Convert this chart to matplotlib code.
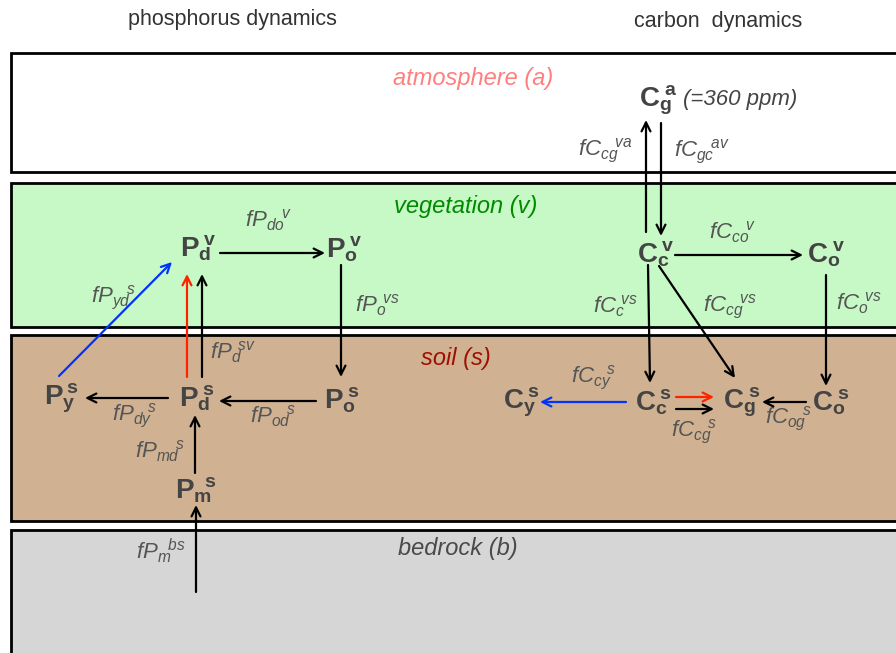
import matplotlib
matplotlib.use("Agg")
import matplotlib.pyplot as plt
from matplotlib.patches import Rectangle

plt.rcParams['font.family'] = ['Liberation Sans', 'DejaVu Sans']
plt.rcParams['mathtext.fontset'] = 'custom'
plt.rcParams['mathtext.rm'] = 'Liberation Sans'
plt.rcParams['mathtext.it'] = 'Liberation Sans:italic'
plt.rcParams['mathtext.bf'] = 'Liberation Sans:bold'

# ---- data ----
titles = ["phosphorus dynamics", "carbon  dynamics"]
title_pos = [(232, 20), (718, 22)]

layer_names = ["atmosphere (a)", "vegetation (v)", "soil (s)", "bedrock (b)"]
layer_top = [53, 183, 335, 530]
layer_bottom = [172, 327, 521, 700]
layer_fill = ["#ffffff", "#c6f9c6", "#d0b292", "#d6d6d6"]
layer_label_color = ["#ff7f7f", "#008a00", "#a01000", "#4a4a4a"]
layer_label_pos = [(473, 78), (466, 206), (456, 358), (458, 549)]

node_labels = [r"$\mathbf{P_d\!\!{}^v}$", r"$\mathbf{P_o\!\!{}^v}$", r"$\mathbf{P_y\!\!{}^s}$",
               r"$\mathbf{P_d\!\!{}^s}$", r"$\mathbf{P_o\!\!{}^s}$", r"$\mathbf{P_m\!\!{}^s}$",
               r"$\mathbf{C_g\!\!{}^a}$",
               r"$\mathbf{C_c\!\!{}^v}$", r"$\mathbf{C_o\!\!{}^v}$", r"$\mathbf{C_y\!\!{}^s}$",
               r"$\mathbf{C_c\!\!{}^s}$", r"$\mathbf{C_g\!\!{}^s}$", r"$\mathbf{C_o\!\!{}^s}$"]
node_pos = [(198, 248), (344, 249), (62, 398), (197, 398), (342, 400), (196, 490),
            (658, 100), (656, 254), (826, 254), (521, 402), (653, 402), (742, 402),
            (831, 402)]
extra_text = "(=360 ppm)"
extra_pos = (683, 100)

flux_labels = [r"$fP_{do}\!{}^{v}$", r"$fP_{yd}\!{}^{s}$", r"$fP_{o}\!{}^{vs}$",
               r"$fP_{d}\!{}^{sv}$", r"$fP_{dy}\!{}^{s}$", r"$fP_{od}\!{}^{s}$",
               r"$fP_{md}\!{}^{s}$", r"$fP_{m}\!{}^{bs}$",
               r"$fC_{cg}\!{}^{va}$", r"$fC_{gc}\!{}^{av}$", r"$fC_{co}\!{}^{v}$",
               r"$fC_{c}\!{}^{vs}$", r"$fC_{cg}\!{}^{vs}$", r"$fC_{o}\!{}^{vs}$",
               r"$fC_{cy}\!{}^{s}$", r"$fC_{cg}\!{}^{s}$", r"$fC_{og}\!{}^{s}$"]
flux_pos = [(268, 220), (113, 298), (377, 305), (233, 352), (134, 416),
            (273, 416), (160, 451), (161, 551),
            (605, 151), (702, 152), (732, 232), (615, 306), (730, 307),
            (859, 303), (593, 378), (694, 432), (788, 419)]

# arrows: (x_start, y_start, x_end, y_end, color)
arrows = [
    (220, 253, 325, 253, "black"),
    (341, 265, 341, 377, "black"),
    (316, 401, 219, 401, "black"),
    (168, 398, 85, 398, "black"),
    (202, 377, 202, 274, "black"),
    (187, 377, 187, 274, "#ff2200"),
    (59, 376, 172, 262, "#0033ff"),
    (195, 473, 195, 415, "black"),
    (196, 592, 196, 505, "black"),
    (646, 232, 646, 120, "black"),
    (661, 123, 661, 236, "black"),
    (675, 255, 803, 255, "black"),
    (648, 265, 650, 383, "black"),
    (659, 266, 735, 378, "black"),
    (826, 275, 826, 386, "black"),
    (626, 402, 540, 402, "#0033ff"),
    (676, 397, 714, 397, "#ff2200"),
    (676, 409, 714, 409, "black"),
    (806, 402, 762, 402, "black"),
]

# ---- drawing ----
fig = plt.figure(figsize=(8.96, 6.53), dpi=100)
ax = fig.add_axes([0, 0, 1, 1])
ax.set_xlim(0, 896)
ax.set_ylim(653, 0)
ax.axis("off")

for top, bot, fc in zip(layer_top, layer_bottom, layer_fill):
    ax.add_patch(Rectangle((11, top), 1000, bot - top, facecolor=fc,
                           edgecolor="black", lw=2.0, zorder=1))

for name, (x, y), c in zip(layer_names, layer_label_pos, layer_label_color):
    ax.text(x, y, name, color=c, fontsize=17, style="italic",
            ha="center", va="center", zorder=3)

for t, (x, y) in zip(titles, title_pos):
    ax.text(x, y, t, color="#333333", fontsize=15.5, ha="center", va="center")

for lab, (x, y) in zip(node_labels, node_pos):
    ax.text(x, y, lab, color="#444444", fontsize=20, ha="center",
            va="center", zorder=4)

ax.text(extra_pos[0], extra_pos[1], extra_text, color="#444444", fontsize=16,
        style="italic", ha="left", va="center", zorder=4)

for lab, (x, y) in zip(flux_labels, flux_pos):
    ax.text(x, y, lab, color="#555555", fontsize=16, ha="center",
            va="center", zorder=4)

for x0, y0, x1, y1, c in arrows:
    ax.annotate("", xy=(x1, y1), xytext=(x0, y0),
                arrowprops=dict(arrowstyle="->", color=c, lw=1.6,
                                mutation_scale=16, shrinkA=0, shrinkB=0),
                zorder=5)

fig.savefig("out.png", dpi=100)
